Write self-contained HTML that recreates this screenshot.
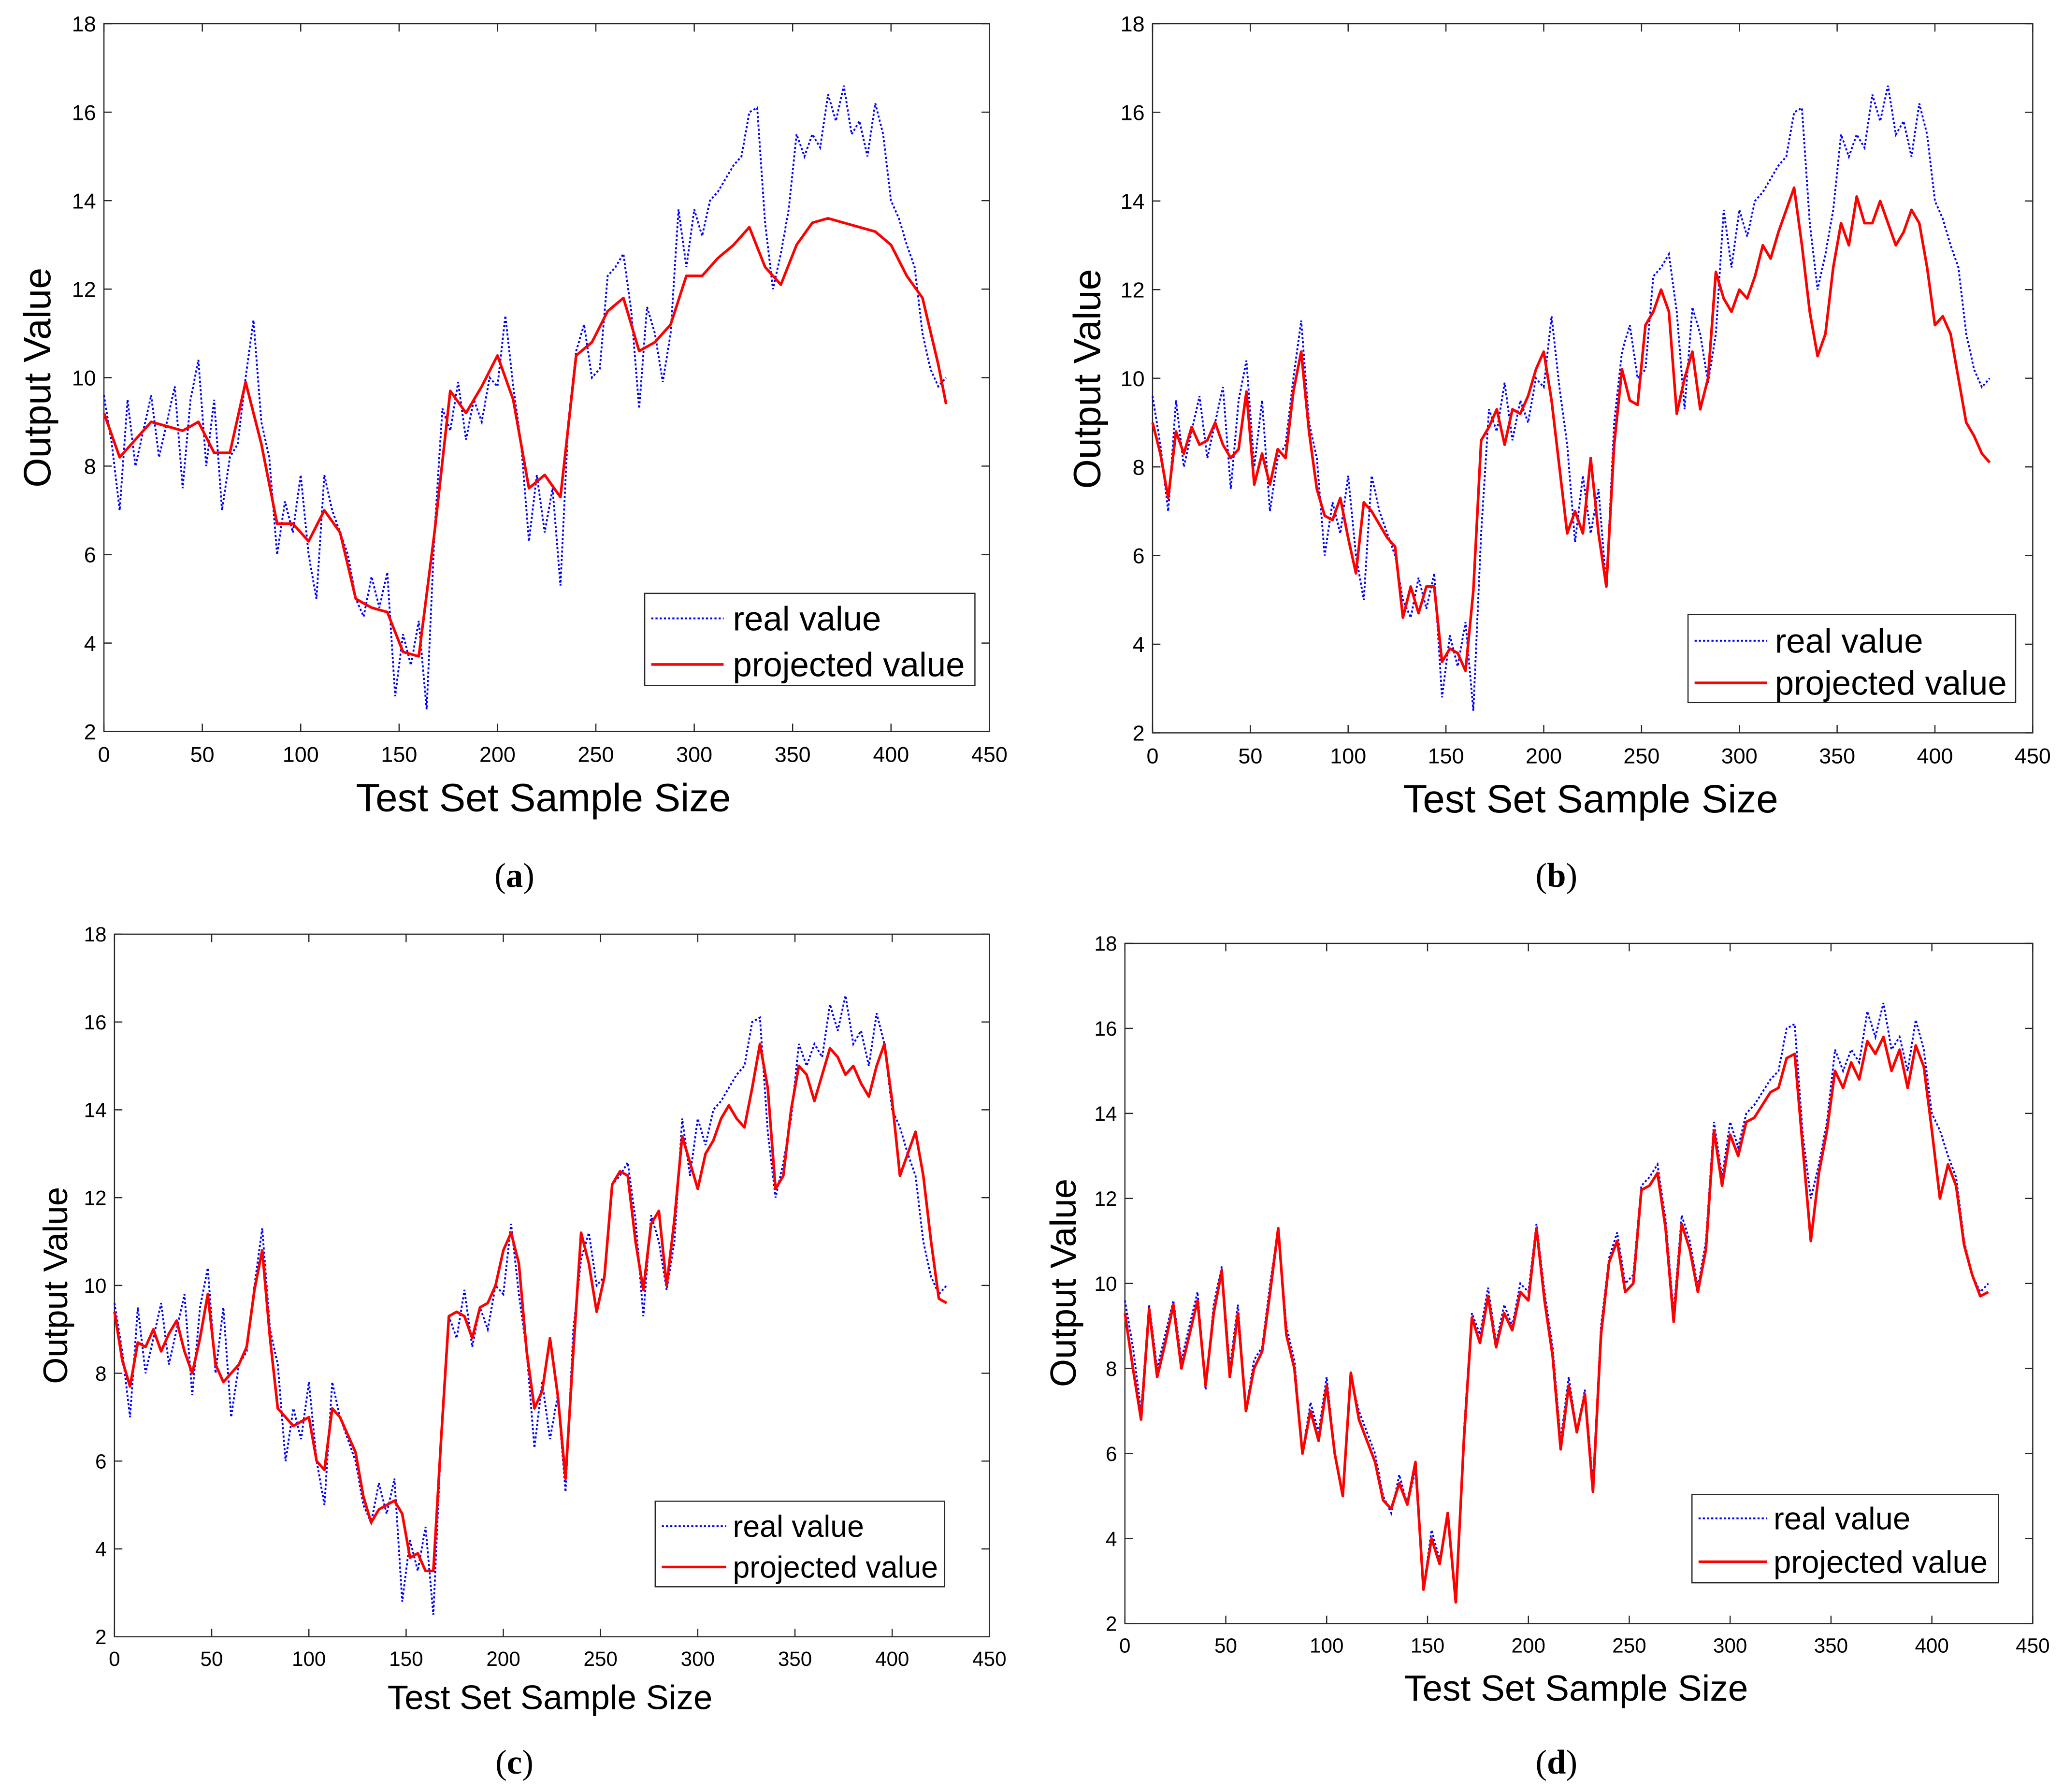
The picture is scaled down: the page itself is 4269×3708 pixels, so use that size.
<!DOCTYPE html>
<html><head><meta charset="utf-8"><style>
html,body{margin:0;padding:0;background:#fff;}
svg{display:block;}
text{font-family:"Liberation Sans",Arial,sans-serif;fill:#000;}
</style></head><body>
<svg id="fig" width="4269" height="3708" viewBox="0 0 1568 1362" preserveAspectRatio="none" xmlns="http://www.w3.org/2000/svg">
<rect x="0" y="0" width="1568" height="1362" fill="#fff"/>
</svg>
<script>
const sampleIdx = [];
for (let i = 0; i <= 428; i += 4) sampleIdx.push(i);
const realValues = [9.6,8.5,7.0,9.5,8.0,8.8,9.6,8.2,9.0,9.8,7.5,9.5,10.4,8.0,9.5,7.0,8.2,8.5,10.0,11.3,9.0,8.2,6.0,7.2,6.5,7.8,6.0,5.0,7.8,7.0,6.5,6.0,5.0,4.6,5.5,4.8,5.6,2.8,4.2,3.5,4.5,2.5,6.5,9.3,8.8,9.9,8.6,9.5,9.0,10.0,9.8,11.4,9.8,8.5,6.3,7.8,6.5,7.5,5.3,9.0,10.6,11.2,10.0,10.2,12.3,12.5,12.8,11.5,9.3,11.6,11.0,9.9,11.0,13.8,12.5,13.8,13.2,14.0,14.2,14.5,14.8,15.0,16.0,16.1,13.5,12.0,12.8,13.8,15.5,15.0,15.5,15.2,16.4,15.8,16.6,15.5,15.8,15.0,16.2,15.5,14.0,13.6,13.0,12.5,11.0,10.2,9.8,10.0];
const projAIdx = [0,8,16,24,32,40,48,56,64,72,80,88,96,104,112,120,128,136,144,152,160,168,176,184,192,200,208,216,224,232,240,248,256,264,272,280,288,296,304,312,320,328,336,344,352,360,368,376,384,392,400,408,416,424,428];
const projAValues = [9.2,8.2,8.6,9.0,8.9,8.8,9.0,8.3,8.3,9.9,8.5,6.7,6.7,6.3,7.0,6.5,5.0,4.8,4.7,3.8,3.7,6.5,9.7,9.2,9.8,10.5,9.5,7.5,7.8,7.3,10.5,10.8,11.5,11.8,10.6,10.8,11.2,12.3,12.3,12.7,13.0,13.4,12.5,12.1,13.0,13.5,13.6,13.5,13.4,13.3,13.0,12.3,11.8,10.3,9.4];
const projBValues = [9.0,8.3,7.3,8.8,8.3,8.9,8.5,8.6,9.0,8.5,8.2,8.4,9.7,7.6,8.3,7.6,8.4,8.2,9.7,10.6,8.8,7.5,6.9,6.8,7.3,6.4,5.6,7.2,7.0,6.7,6.4,6.2,4.6,5.3,4.7,5.3,5.3,3.6,3.9,3.8,3.4,5.2,8.6,8.9,9.3,8.5,9.3,9.2,9.6,10.2,10.6,9.5,8.0,6.5,7.0,6.5,8.2,6.5,5.3,8.5,10.2,9.5,9.4,11.2,11.5,12.0,11.5,9.2,10.0,10.6,9.3,10.0,12.4,11.8,11.5,12.0,11.8,12.3,13.0,12.7,13.3,13.8,14.3,13.0,11.5,10.5,11.0,12.5,13.5,13.0,14.1,13.5,13.5,14.0,13.5,13.0,13.3,13.8,13.5,12.5,11.2,11.4,11.0,10.0,9.0,8.7,8.3,8.1];
const projCValues = [9.4,8.3,7.7,8.7,8.6,9.0,8.5,8.9,9.2,8.5,8.0,8.8,9.8,8.2,7.8,8.0,8.2,8.6,9.9,10.8,8.8,7.2,7.0,6.8,6.9,7.0,6.0,5.8,7.2,7.0,6.6,6.2,5.2,4.6,4.9,5.0,5.1,4.8,3.8,3.9,3.5,3.5,6.5,9.3,9.4,9.3,8.8,9.5,9.6,10.0,10.8,11.2,10.5,8.5,7.2,7.6,8.8,7.5,5.6,8.5,11.2,10.5,9.4,10.2,12.3,12.6,12.5,11.0,9.9,11.4,11.7,10.0,11.5,13.4,12.8,12.2,13.0,13.3,13.8,14.1,13.8,13.6,14.5,15.5,14.5,12.2,12.5,14.0,15.0,14.8,14.2,14.8,15.4,15.2,14.8,15.0,14.6,14.3,15.0,15.5,14.2,12.5,13.0,13.5,12.5,11.0,9.7,9.6];
const projDValues = [9.3,8.0,6.8,9.4,7.8,8.6,9.5,8.0,8.8,9.6,7.6,9.3,10.3,7.8,9.3,7.0,8.0,8.4,9.8,11.3,8.8,8.0,6.0,7.0,6.3,7.6,6.0,5.0,7.9,6.8,6.3,5.8,4.9,4.7,5.3,4.8,5.8,2.8,4.0,3.4,4.6,2.5,6.3,9.2,8.6,9.7,8.5,9.3,8.9,9.8,9.6,11.3,9.6,8.3,6.1,7.6,6.5,7.4,5.1,8.8,10.5,11.0,9.8,10.0,12.2,12.3,12.6,11.3,9.1,11.4,10.8,9.8,10.8,13.6,12.3,13.5,13.0,13.8,13.9,14.2,14.5,14.6,15.3,15.4,13.2,11.0,12.6,13.6,15.0,14.6,15.2,14.8,15.7,15.4,15.8,15.0,15.5,14.6,15.6,15.1,13.6,12.0,12.8,12.3,10.9,10.2,9.7,9.8];

const xTicks = [0,50,100,150,200,250,300,350,400,450];
const yTicks = [2,4,6,8,10,12,14,16,18];

const NS = "http://www.w3.org/2000/svg";
const svg = document.getElementById('fig');
function mk(tag, attrs, parent) {
  const e = document.createElementNS(NS, tag);
  for (const k in attrs) e.setAttribute(k, attrs[k]);
  (parent || svg).appendChild(e);
  return e;
}

const panels = [
  {id:'a', box:[79,18,752,556], proj:projAValues, projX:projAIdx, ylab:[28,287], xlab:[413,606], leg:[490,451,741,521,470,505], cap:[391,665], fs:{tick:16.5,title:30,ytitle:29,leg:26}, lline:[5,60], ltext:67},
  {id:'b', box:[876,18,1545,557], proj:projBValues, projX:sampleIdx, ylab:[826,288], xlab:[1209,607], leg:[1283,467,1532,534,487,519], cap:[1183,665], fs:{tick:16.5,title:30,ytitle:29,leg:26}, lline:[5,60], ltext:66},
  {id:'c', box:[87,710,752,1244], proj:projCValues, projX:sampleIdx, ylab:[42,977], xlab:[418,1290], leg:[498,1141,718,1206,1160,1191], cap:[391,1339], fs:{tick:15.5,title:26,ytitle:26,leg:23}, lline:[5,54], ltext:59},
  {id:'d', box:[855,717,1545,1234], proj:projDValues, projX:sampleIdx, ylab:[808,975], xlab:[1198,1283], leg:[1286,1136,1519,1203,1154,1187], cap:[1183,1339], fs:{tick:15.5,title:27.5,ytitle:27.5,leg:24}, lline:[5,57], ltext:62}
];

panels.forEach(p => {
  const [x0,y0,x1,y1] = p.box;
  const g = mk('g', {});
  
  
  const sx = v => x0 + (v / 450) * (x1 - x0);
  const sy = v => y1 - ((v - 2) / 16) * (y1 - y0);
  const frame = mk('rect', {x:x0, y:y0, width:x1-x0, height:y1-y0, fill:'#fff', stroke:'#262626', 'stroke-width':0.9}, g);
  
  
  xTicks.forEach(t => {
    const X = sx(t);
    mk('line', {x1:X, y1:y1, x2:X, y2:y1-6, stroke:'#262626', 'stroke-width':0.9}, g);
    mk('line', {x1:X, y1:y0, x2:X, y2:y0+6, stroke:'#262626', 'stroke-width':0.9}, g);
    const tx = mk('text', {x:X, y:y1+5+p.fs.tick*1.1, 'font-size':p.fs.tick, 'text-anchor':'middle'}, g);
    tx.textContent = t;
    
    
  });
  yTicks.forEach(t => {
    const Y = sy(t);
    mk('line', {x1:x0, y1:Y, x2:x0+6, y2:Y, stroke:'#262626', 'stroke-width':0.9}, g);
    mk('line', {x1:x1, y1:Y, x2:x1-6, y2:Y, stroke:'#262626', 'stroke-width':0.9}, g);
    const ty = mk('text', {x:x0-6, y:Y+p.fs.tick*0.36, 'font-size':p.fs.tick, 'text-anchor':'end'}, g);
    ty.textContent = t;
    
    
  });
  const realPts = sampleIdx.map((s,i) => sx(s).toFixed(2) + ',' + sy(realValues[i]).toFixed(2)).join(' ');
  const rl = mk('polyline', {points:realPts, fill:'none', stroke:'#0000ff', 'stroke-width':1.4, 'stroke-dasharray':'1.6 1.6'}, g);
  
  
  const projPts = p.projX.map((s,i) => sx(s).toFixed(2) + ',' + sy(p.proj[i]).toFixed(2)).join(' ');
  const pl = mk('polyline', {points:projPts, fill:'none', stroke:'#ff0000', 'stroke-width':2, 'stroke-linejoin':'round'}, g);
  
  
  const yl = mk('text', {x:p.ylab[0], y:p.ylab[1], 'font-size':p.fs.ytitle, 'text-anchor':'middle', transform:'rotate(-90 '+p.ylab[0]+' '+p.ylab[1]+')', dy:p.fs.ytitle*0.35}, g);
  yl.textContent = 'Output Value';
  
  
  const xl = mk('text', {x:p.xlab[0], y:p.xlab[1]+p.fs.title*0.35, 'font-size':p.fs.title, 'text-anchor':'middle'}, g);
  xl.textContent = 'Test Set Sample Size';
  
  
  const [lx0,ly0,lx1,ly1,e1,e2] = p.leg;
  const lg = mk('g', {}, g);
  
  
  mk('rect', {x:lx0, y:ly0, width:lx1-lx0, height:ly1-ly0, fill:'#fff', stroke:'#262626', 'stroke-width':0.9}, lg);
  mk('line', {x1:lx0+p.lline[0], y1:e1, x2:lx0+p.lline[1], y2:e1, stroke:'#0000ff', 'stroke-width':1.4, 'stroke-dasharray':'1.6 1.6'}, lg);
  mk('line', {x1:lx0+p.lline[0], y1:e2, x2:lx0+p.lline[1], y2:e2, stroke:'#ff0000', 'stroke-width':2}, lg);
  const t1 = mk('text', {x:lx0+p.ltext, y:e1+p.fs.leg*0.35, 'font-size':p.fs.leg}, lg);
  t1.textContent = 'real value';
  
  
  const t2 = mk('text', {x:lx0+p.ltext, y:e2+p.fs.leg*0.35, 'font-size':p.fs.leg}, lg);
  t2.textContent = 'projected value';
  
  
  const cap = mk('text', {x:p.cap[0], y:p.cap[1]+9, 'font-size':26, 'text-anchor':'middle', style:'font-family:"Liberation Serif",serif'}, g);
  cap.innerHTML = '(<tspan font-weight="bold">' + p.id + '</tspan>)';
  
  
});
</script>
</body></html>
